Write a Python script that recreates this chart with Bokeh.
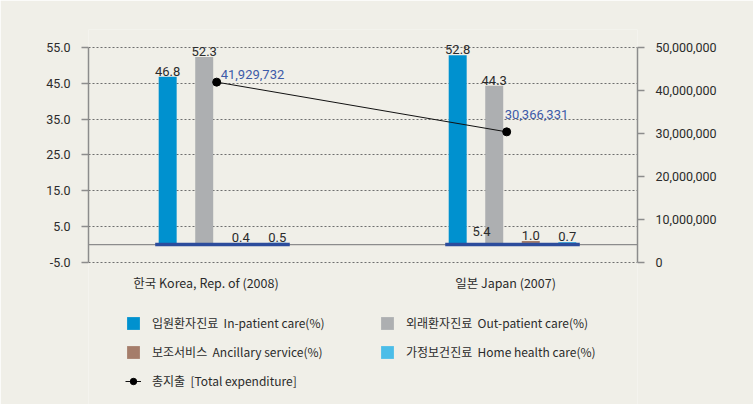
from bokeh.plotting import figure
from bokeh.models import (Range1d, LinearAxis, FixedTicker, NumeralTickFormatter,
                          Legend, LegendItem, ColumnDataSource)
from bokeh.embed import file_html
from bokeh.resources import INLINE
from bokeh.core.properties import value

# ---------------- data ----------------
countries = ["한국 Korea, Rep. of (2008)", "일본 Japan (2007)"]
inpatient = [46.8, 52.8]
outpatient = [52.3, 44.3]
ancillary = [0.4, 1.0]
home_care = [0.5, 0.7]
total_expenditure = [41929732, 30366331]
total_labels = ["41,929,732", "30,366,331"]
stray_label_text = ["5.4"]
stray_label_value = [2.3]

series_names = [
    "입원환자진료  In-patient care(%)",
    "외래환자진료  Out-patient care(%)",
    "보조서비스  Ancillary service(%)",
    "가정보건진료  Home health care(%)",
]
total_name = "총지출  [Total expenditure]"
left_ticks = [-5, 5, 15, 25, 35, 45, 55]
right_ticks = [0, 10000000, 20000000, 30000000, 40000000, 50000000]

# ---------------- style / layout ----------------
BG = "#f0efe8"
colors = ["#0091cf", "#adafb1", "#a57d6a", "#4bbde8"]
TXT = "#2b2b2b"
FONT = "Roboto"
KFONT = "Noto Sans CJK KR"
offsets = [-0.189, -0.063, 0.063, 0.189]
bar_w = 0.062
label_shift = [-0.057, -0.024]
point_shift = -0.02
total_label_dx = [4, -2]
total_label_dy = [-3, -13]

Y_LO, Y_HI = -5, 55          # axis extent (left)
R_LO, R_HI = 0, 50000000     # axis extent (right)
y_start, y_end = -44.63, 60  # frame extends below for legend & labels
r_per_unit = (R_HI - R_LO) / (Y_HI - Y_LO)
X_LO, X_HI = -0.462, 1.431

groups = list(range(len(countries)))

p = figure(width=753, height=404, output_backend="svg", toolbar_location=None,
           x_range=Range1d(X_LO, X_HI), y_range=Range1d(y_start, y_end),
           min_border_left=88, min_border_right=116, min_border_top=29, min_border_bottom=0)
p.background_fill_color = BG
p.border_fill_color = BG
p.outline_line_color = None
p.extra_y_ranges = {"right": Range1d(R_LO + (y_start - Y_LO) * r_per_unit,
                                     R_LO + (y_end - Y_LO) * r_per_unit)}

# zero line (between the axes)
p.segment(x0=[X_LO], y0=[0], x1=[X_HI], y1=[0], line_color="#8c8c8c", line_width=1.2)

series = [inpatient, outpatient, ancillary, home_care]
bar_renderers = []
for k, vals in enumerate(series):
    xs = [g + offsets[k] for g in groups]
    src = ColumnDataSource(dict(x=xs, top=vals, lab=["%.1f" % v for v in vals]))
    r = p.vbar(x="x", top="top", bottom=0, width=bar_w, source=src,
               fill_color=colors[k], line_color=None)
    bar_renderers.append(r)
    p.text(x="x", y="top", text="lab", source=src, text_align="center",
           text_baseline="bottom", y_offset=-1, text_font=value(FONT),
           text_font_size="13px", text_color=TXT)

# dark blue base strips under each group
p.segment(x0=[g + offsets[0] - bar_w / 2 - 0.012 for g in groups], y0=[0] * len(groups),
          x1=[g + offsets[-1] + bar_w / 2 + 0.012 for g in groups], y1=[0] * len(groups),
          line_color="#2c4c9c", line_width=3.5)

# stray label
p.text(x=[groups[1] + offsets[1] - 0.044], y=stray_label_value, text=stray_label_text,
       text_align="center", text_baseline="bottom", text_font=value(FONT),
       text_font_size="13px", text_color=TXT)

# category labels
p.text(x=[g + s for g, s in zip(groups, label_shift)], y=[Y_LO] * len(groups), text=countries,
       text_align="center", text_baseline="middle", y_offset=20, text_font=value(KFONT),
       text_font_size="12.5px", text_color=TXT)

# total expenditure line
lx = [g + point_shift for g in groups]
ln = p.line(lx, total_expenditure, y_range_name="right", line_color="#111111", line_width=1)
sc = p.scatter(lx, total_expenditure, y_range_name="right", size=8, fill_color="#000000",
               line_color="#000000")
tsrc = ColumnDataSource(dict(x=lx, y=total_expenditure, t=total_labels,
                             dx=total_label_dx, dy=total_label_dy))
p.text(x="x", y="y", text="t", source=tsrc, y_range_name="right",
       text_align="left", text_baseline="bottom", x_offset="dx", y_offset="dy",
       text_font=value(FONT), text_font_size="13px", text_color="#3d5ba8")

# axes
yax = p.yaxis[0]
yax.ticker = FixedTicker(ticks=left_ticks)
yax.formatter = NumeralTickFormatter(format="0.0")
yax.bounds = (Y_LO, Y_HI)
right_ax = LinearAxis(y_range_name="right", ticker=FixedTicker(ticks=right_ticks),
                      formatter=NumeralTickFormatter(format="0,0"), bounds=(R_LO, R_HI))
p.add_layout(right_ax, "right")
for ax in (yax, right_ax):
    ax.axis_line_color = "#8c8c8c"
    ax.axis_line_width = 1.5
    ax.major_tick_line_color = "#8c8c8c"
    ax.major_tick_line_width = 1.5
    ax.major_tick_out = 7
    ax.major_tick_in = 0
    ax.minor_tick_line_color = None
    ax.major_label_standoff = 11
    ax.major_label_text_font = FONT
    ax.major_label_text_font_size = "12.5px"
    ax.major_label_text_color = TXT
p.xaxis.visible = False

p.ygrid.grid_line_color = "#6e6e6e"
p.ygrid.grid_line_dash = "2 2"
p.ygrid.grid_line_width = 1
p.xgrid.visible = False

# legend: column-major fill -> col1: in-patient, ancillary, total; col2: out-patient, home
bar_items = [LegendItem(label=series_names[k], renderers=[bar_renderers[k]]) for k in range(4)]
total_item = LegendItem(label=total_name, renderers=[ln, sc])
items = [bar_items[0], bar_items[2], total_item, bar_items[1], bar_items[3]]
legend = Legend(items=items, ncols=2, location=(37, 15), padding=0, margin=0,
                glyph_width=16, glyph_height=16, label_height=16, label_width=215,
                spacing=12, label_standoff=11, background_fill_alpha=0,
                border_line_color=None, label_text_font=KFONT,
                label_text_font_size="12px", label_text_color=TXT)
p.add_layout(legend, "center")

open("out.html", "w").write(file_html(p, INLINE))
